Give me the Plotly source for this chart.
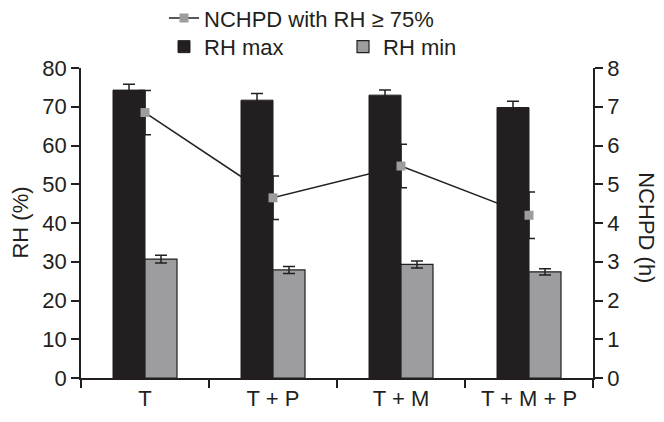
import plotly.graph_objects as go

categories = ["T", "T + P", "T + M", "T + M + P"]
rh_max = [74.3, 71.7, 73.0, 69.8]
rh_max_err = [1.5, 1.7, 1.3, 1.6]
rh_min = [30.7, 27.9, 29.3, 27.4]
rh_min_err = [1.0, 0.9, 0.9, 0.8]
nchpd = [6.85, 4.65, 5.47, 4.2]
nchpd_err = [0.57, 0.56, 0.56, 0.6]

BLACK = "#231f20"
GRAY = "#9d9d9f"
FONT = "Liberation Sans, Arial, sans-serif"
FS = 22

fig = go.Figure()
fig.add_trace(go.Bar(
    x=categories, y=rh_max, name="RH max", legend="legend2", showlegend=True,
    marker=dict(color=BLACK, line=dict(color=BLACK, width=1)),
    error_y=dict(type="data", array=rh_max_err, color=BLACK, thickness=1.5, width=6),
))
fig.add_trace(go.Bar(
    x=categories, y=rh_min, name="RH min", legend="legend2", showlegend=True,
    marker=dict(color=GRAY, line=dict(color=BLACK, width=1.2)),
    error_y=dict(type="data", array=rh_min_err, color=BLACK, thickness=1.5, width=6),
))
fig.add_trace(go.Scatter(
    x=categories, y=nchpd, name="NCHPD with RH \u2265 75%", yaxis="y2", legend="legend",
    showlegend=True, mode="lines+markers",
    line=dict(color=BLACK, width=1.5),
    marker=dict(symbol="square", size=9, color=GRAY),
    error_y=dict(type="data", array=nchpd_err, color=BLACK, thickness=1.5, width=6),
))

axis_common = dict(
    showline=True, linecolor=BLACK, linewidth=1.5,
    ticks="outside", ticklen=8, tickwidth=1.5, tickcolor=BLACK,
    showgrid=False, zeroline=False, automargin=False,
    tickfont=dict(family=FONT, size=FS, color=BLACK),
)

fig.update_layout(
    width=664, height=422,
    margin=dict(l=81, r=71, t=68, b=44),
    paper_bgcolor="white", plot_bgcolor="white",
    font=dict(family=FONT, size=FS, color=BLACK),
    showlegend=True,
    barmode="group", bargap=0.5, bargroupgap=0,
    xaxis=dict(type="category", tickson="boundaries", range=[-0.5, 3.5], **axis_common),
    yaxis=dict(range=[0, 80], dtick=10, **axis_common),
    yaxis2=dict(range=[0, 8], dtick=1, overlaying="y", side="right", **axis_common),
    legend=dict(xref="container", yref="container", x=0.247, y=0.957,
                xanchor="left", yanchor="middle",
                orientation="h", bgcolor="rgba(0,0,0,0)",
                font=dict(family=FONT, size=FS, color=BLACK)),
    legend2=dict(xref="container", yref="container", x=0.247, y=0.889,
                 xanchor="left", yanchor="middle",
                 orientation="h", entrywidth=134, bgcolor="rgba(0,0,0,0)",
                 font=dict(family=FONT, size=FS, color=BLACK)),
    annotations=[
        dict(text="RH (%)", xref="paper", yref="paper", x=-0.12, y=0.5,
             textangle=-90, showarrow=False, xanchor="center", yanchor="middle",
             font=dict(family=FONT, size=FS, color=BLACK)),
        dict(text="NCHPD (h)", xref="paper", yref="paper", x=1.103, y=0.484,
             textangle=90, showarrow=False, xanchor="center", yanchor="middle",
             font=dict(family=FONT, size=FS, color=BLACK)),
    ],
)

fig.write_html(
    "out.html",
    config={"displayModeBar": False},
    post_script="document.body.style.margin='0';document.body.style.overflow='hidden';",
)
